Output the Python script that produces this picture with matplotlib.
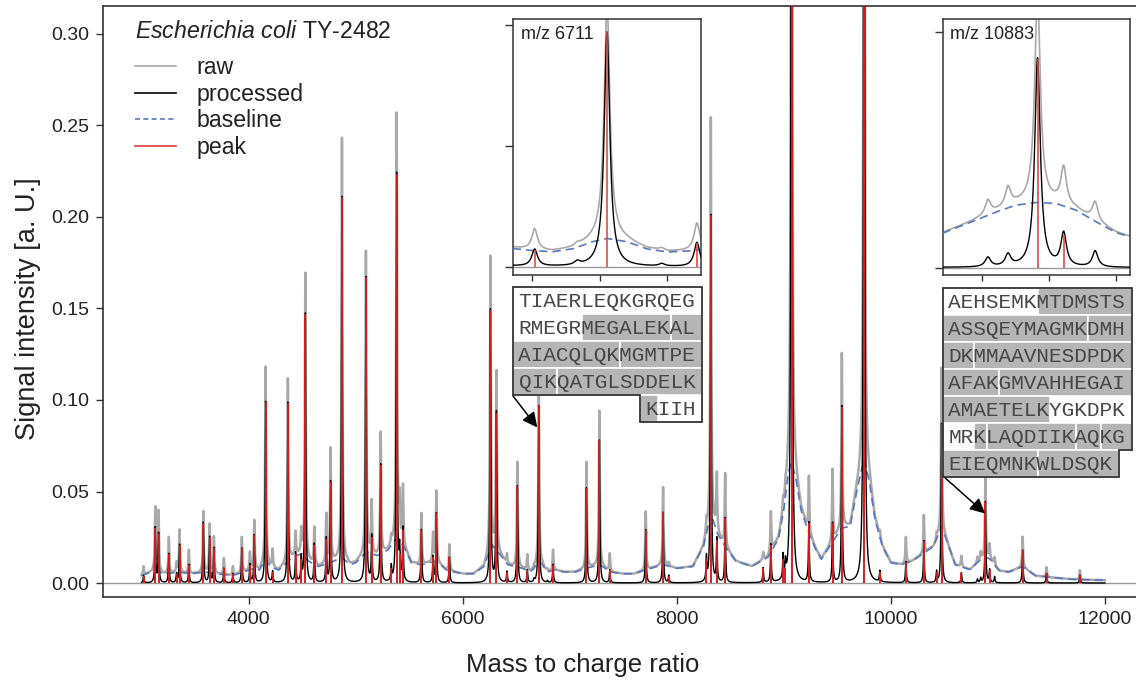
import numpy as np
import matplotlib
matplotlib.use("Agg")
import matplotlib.pyplot as plt
from matplotlib.patches import Polygon, Rectangle
from matplotlib.lines import Line2D

plt.rcParams["font.family"] = ["Liberation Sans", "DejaVu Sans"]
plt.rcParams["mathtext.fontset"] = "custom"
plt.rcParams["mathtext.rm"] = "Liberation Sans"
plt.rcParams["mathtext.it"] = "Liberation Sans:italic"

# detected peaks: m/z, processed intensity (peak mark), raw intensity at the top
peak_mz = [3019, 3128, 3159, 3255, 3327, 3355, 3442, 3577, 3636, 3676, 3769, 3853,
           3937, 4012, 4053, 4159, 4224, 4367, 4439, 4492, 4530, 4614, 4726, 4766,
           4872, 5096, 5150, 5234, 5333, 5383, 5411, 5442, 5614, 5723, 5754, 5876,
           6259, 6315, 6414, 6511, 6604, 6711, 6844, 7156, 7277, 7374, 7710, 7872,
           7925, 8277, 8318, 8374, 8452, 8807, 8879, 8993, 9015, 9072, 9234, 9455,
           9542, 9750, 9897, 10140, 10308, 10427, 10473, 10659, 10883, 10922, 11231,
           11454, 11766]
peak_int = [0.004, 0.030, 0.027, 0.016, 0.005, 0.021, 0.010, 0.033, 0.025, 0.019, 0.008, 0.005,
            0.019, 0.010, 0.026, 0.099, 0.006, 0.0985, 0.016, 0.013, 0.147, 0.021, 0.024, 0.055,
            0.211, 0.167, 0.025, 0.0645, 0.008, 0.2235, 0.016, 0.029, 0.029, 0.014, 0.038, 0.014,
            0.149, 0.093, 0.006, 0.053, 0.007, 0.097, 0.010, 0.052, 0.078, 0.007, 0.029, 0.0386,
            0.004, 0.013, 0.201, 0.0235, 0.0353, 0.008, 0.0208, 0.013, 0.008, 0.80, 0.0326, 0.0326,
            0.0963, 0.80, 0.006, 0.0117, 0.023, 0.006, 0.087, 0.0056, 0.0444, 0.007, 0.018,
            0.0053, 0.0044]
raw_top = [0.009, 0.041, 0.039, 0.025, 0.011, 0.029, 0.018, 0.039, 0.032, 0.025, 0.0135, 0.009,
           0.025, 0.0166, 0.034, 0.118, 0.018, 0.1115, 0.0275, 0.028, 0.169, 0.030, 0.037, 0.073,
           0.243, 0.181, 0.044, 0.082, 0.012, 0.256, 0.044, 0.052, 0.038, 0.027, 0.050, 0.021,
           0.178, 0.115, 0.0157, 0.066, 0.0154, 0.109, 0.018, 0.066, 0.094, 0.016, 0.039, 0.0523,
           0.008, 0.020, 0.254, 0.059, 0.0596, 0.015, 0.0386, 0.030, 0.030, 0.90, 0.0577, 0.0617,
           0.125, 0.90, 0.012, 0.025, 0.037, 0.020, 0.1175, 0.0148, 0.058, 0.021, 0.0253,
           0.0086, 0.007]

# small features of the processed spectrum without a peak mark
minor_mz = [6667, 6792, 10809, 10839, 10969]
minor_int = [0.0015, 0.001, 0.002, 0.0025, 0.0034]
minor_raw = [0.001, 0.001, 0.003, 0.004, 0.004]

# estimated baseline
base_mz = [3000, 3130, 3200, 3350, 3450, 3600, 3700, 3850, 3950, 4050, 4100, 4160,
           4200, 4280, 4370, 4440, 4500, 4560, 4650, 4760, 4870, 4950, 5000, 5100,
           5200, 5300, 5390, 5450, 5520, 5620, 5750, 5850, 6000, 6100, 6200, 6270,
           6330, 6420, 6500, 6560, 6600, 6630, 6660, 6690, 6711, 6740, 6770, 6800,
           6830, 6850, 6950, 7050, 7150, 7280, 7380, 7500, 7600, 7700, 7870, 8000,
           8150, 8250, 8318, 8380, 8450, 8550, 8700, 8850, 8950, 9000, 9040, 9072,
           9110, 9160, 9230, 9300, 9350, 9450, 9540, 9620, 9680, 9750, 9800, 9850,
           9920, 10000, 10100, 10200, 10300, 10400, 10473, 10540, 10600, 10700, 10742,
           10780, 10820, 10850, 10883, 10910, 10940, 10970, 11000, 11021, 11100, 11230,
           11350, 11500, 11700, 12000]
base_val = [0.004, 0.007, 0.005, 0.006, 0.005, 0.006, 0.005, 0.004, 0.006, 0.008, 0.007, 0.013,
            0.009, 0.007, 0.012, 0.015, 0.016, 0.012, 0.009, 0.011, 0.014, 0.010, 0.011, 0.017,
            0.015, 0.018, 0.025, 0.020, 0.011, 0.010, 0.012, 0.007, 0.005, 0.005, 0.009, 0.021,
            0.017, 0.010, 0.009, 0.0080, 0.0068, 0.0063, 0.0075, 0.0105, 0.0118, 0.0105, 0.0075, 0.0062,
            0.0066, 0.0072, 0.006, 0.006, 0.008, 0.010, 0.006, 0.005, 0.005, 0.007, 0.010, 0.008,
            0.009, 0.020, 0.038, 0.027, 0.020, 0.012, 0.009, 0.014, 0.024, 0.040, 0.060, 0.066,
            0.058, 0.040, 0.028, 0.018, 0.013, 0.022, 0.030, 0.031, 0.050, 0.068, 0.055, 0.035,
            0.020, 0.011, 0.010, 0.012, 0.016, 0.020, 0.031, 0.020, 0.010, 0.008, 0.0074,
            0.0095, 0.0118, 0.0133, 0.0139, 0.0137, 0.0123, 0.0098, 0.0075, 0.0066, 0.006, 0.009,
            0.004, 0.003, 0.002, 0.0015]

x_ticks = [4000, 6000, 8000, 10000, 12000]
y_ticks = [0.00, 0.05, 0.10, 0.15, 0.20, 0.25, 0.30]

# protein sequences shown for the two zoomed peaks, gray = covered fragments
seq1_rows = ["TIAERLEQKGRQEG", "RMEGRMEGALEKAL", "AIACQLQKMGMTPE", "QIKQATGLSDDELK", "KIIH"]
seq1_offset = [0, 0, 0, 0, 10]
seq1_gray = [[], [(5, 12), (12, 14)], [(0, 8), (8, 14)], [(0, 3), (3, 14)], [(0, 1)]]

seq2_rows = ["AEHSEMKMTDMSTS", "ASSQEYMAGMKDMH", "DKMMAAVNESDPDK", "AFAKGMVAHHEGAI",
             "AMAETELKYGKDPK", "MRKLAQDIIKAQKG", "EIEQMNKWLDSQK"]
seq2_offset = [0, 0, 0, 0, 0, 0, 0]
seq2_gray = [[(7, 14)], [(0, 11), (11, 14)], [(0, 2), (2, 14)], [(0, 4), (4, 14)],
             [(0, 8)], [(2, 3), (3, 10), (10, 12), (12, 14)], [(0, 7), (7, 13)]]

W, H = 1136, 680
RAW_C = "#a9a9a9"
BASE_C = "#5679bd"
PEAK_C = "#d11f1f"
TXT_C = "#222222"
FWHM = 10.0


def lorentz(x, mz, amp):
    return amp / (1.0 + (2.0 * (x - mz) / FWHM) ** 2)


def build_spectra():
    grid = np.arange(3000, 12000.5, 0.5)
    baseline = np.interp(grid, base_mz, base_val)
    processed = np.zeros_like(grid)
    raw = baseline.copy()
    for m, p, r in zip(peak_mz, peak_int, raw_top):
        processed += lorentz(grid, m, p)
        amp = max(r - np.interp(m, base_mz, base_val), 0.5 * p)
        raw += lorentz(grid, m, amp)
    for m, p, r in zip(minor_mz, minor_int, minor_raw):
        processed += lorentz(grid, m, p)
        raw += lorentz(grid, m, r)
    return grid, raw, processed, baseline


def draw_spectra(ax, grid, raw, processed, baseline, raw_lw, peak_c, peak_lw):
    ax.axhline(0, color="#9a9a9a", lw=1.0, zorder=1)
    ax.plot(grid, raw, color=RAW_C, lw=raw_lw, zorder=2)
    ax.plot(grid, baseline, color=BASE_C, lw=1.2, ls=(0, (5, 3)), zorder=3)
    ax.plot(grid, processed, color="black", lw=1.0, zorder=4)
    ax.vlines(peak_mz, 0, peak_int, color=peak_c, lw=peak_lw, zorder=5)


def draw_seq_box(ov, x0, y0, rows, offsets, gray):
    cw, rh, pad = 12.72, 27.0, 5.5
    lefts, rights, tops = [], [], []
    for r, row in enumerate(rows):
        lefts.append(x0 + offsets[r] * cw)
        rights.append(x0 + 2 * pad + (offsets[r] + len(row)) * cw)
        tops.append(y0 + r * rh)
    pts = []
    for r in range(len(rows)):
        pts += [(rights[r], tops[r]), (rights[r], tops[r] + rh)]
    for r in reversed(range(len(rows))):
        pts += [(lefts[r], tops[r] + rh), (lefts[r], tops[r])]
    ov.add_patch(Polygon(pts, closed=True, facecolor="white", edgecolor="none", zorder=1))
    for r, row in enumerate(rows):
        for s, e in gray[r]:
            xl = lefts[r] if s == 0 else x0 + pad + (offsets[r] + s) * cw
            xr = rights[r] if e == len(row) else x0 + pad + (offsets[r] + e) * cw
            ov.add_patch(Rectangle((xl, tops[r]), xr - xl, rh, facecolor="#b5b5b5",
                                   edgecolor="white", lw=1.2, zorder=2))
        ov.text(x0 + pad + offsets[r] * cw, tops[r] + rh / 2 + 1, row,
                family="Liberation Mono", fontsize=15.2, color="#474747",
                ha="left", va="center", zorder=3)
    ov.add_patch(Polygon(pts, closed=True, facecolor="none", edgecolor="#333333",
                         lw=1.3, zorder=4))


def style_inset(ax, xlim, ylim, xt, yt):
    ax.set_xlim(*xlim)
    ax.set_ylim(*ylim)
    ax.set_xticks(xt)
    ax.set_yticks(yt)
    ax.set_xticklabels([])
    ax.set_yticklabels([])
    ax.tick_params(axis="y", length=5.5, width=1, color="#333333")
    ax.tick_params(axis="x", length=4.5, width=1, color="#333333")
    for sp in ax.spines.values():
        sp.set_color("#333333")
        sp.set_linewidth(1.1)


grid, raw, processed, baseline = build_spectra()

fig = plt.figure(figsize=(W / 100, H / 100), dpi=100)
ax = fig.add_axes([103 / W, 83 / H, 1040.5 / W, 591 / H])
draw_spectra(ax, grid, raw, processed, baseline, 1.8, PEAK_C, 1.4)
ax.set_xlim(2640, 12360)
ax.set_ylim(-0.00765, 0.3153)
ax.set_xticks(x_ticks)
ax.set_yticks(y_ticks)
ax.set_yticklabels([f"{v:.2f}" for v in y_ticks])
ax.tick_params(labelsize=14, length=5, width=1, color="#333333", labelcolor=TXT_C, pad=5)
for sp in ax.spines.values():
    sp.set_color("#333333")
    sp.set_linewidth(1.2)
ax.set_xlabel("Mass to charge ratio", fontsize=18.5, color=TXT_C)
ax.xaxis.set_label_coords((583 - 103) / 1040.5, -(665 - 597) / 591, transform=ax.transAxes)
ax.set_ylabel("Signal intensity [a. U.]", fontsize=19.5, color=TXT_C)
ax.yaxis.set_label_coords(-(103 - 28) / 1040.5, (597 - 309) / 591, transform=ax.transAxes)
ax.xaxis.label.set_va("center")
ax.yaxis.label.set_va("center")

# legend with the strain name as its heading
fig.text(135 / W, 1 - 32 / H, r"$\it{Escherichia\ coli}$ TY-2482", fontsize=16.7,
         color=TXT_C, ha="left", va="center")
handles = [Line2D([], [], color=RAW_C, lw=1.2), Line2D([], [], color="black", lw=1.2),
           Line2D([], [], color=BASE_C, lw=1.2, ls=(0, (3, 2))),
           Line2D([], [], color="#e03a3a", lw=1.2)]
leg = ax.legend(handles, ["raw", "processed", "baseline", "peak"],
                fontsize=16.7, loc="upper left", bbox_to_anchor=(135 / W, 1 - 56 / H),
                bbox_transform=fig.transFigure, frameon=False,
                handlelength=1.75, handletextpad=0.9, labelspacing=0.16, borderpad=0,
                borderaxespad=0)
for t in leg.get_texts():
    t.set_color(TXT_C)

# zoomed insets
in1 = fig.add_axes([513 / W, 1 - 275 / H, 188 / W, 256 / H])
draw_spectra(in1, grid, raw, processed, baseline, 1.2, "#e04a4a", 1.2)
style_inset(in1, (6572, 6850), (-0.0033, 0.1025), [6600, 6700, 6800], [0, 0.05, 0.10])
in1.text(0.04, 0.94, "m/z 6711", transform=in1.transAxes, fontsize=13, color=TXT_C,
         ha="left", va="center")

in2 = fig.add_axes([943 / W, 1 - 275 / H, 187 / W, 256 / H])
draw_spectra(in2, grid, raw, processed, baseline, 1.2, "#e04a4a", 1.2)
style_inset(in2, (10742, 11021), (-0.0015, 0.0528), [10800, 10900, 11000], [0, 0.05])
in2.text(0.04, 0.94, "m/z 10883", transform=in2.transAxes, fontsize=13, color=TXT_C,
         ha="left", va="center")

# sequence boxes in pixel coordinates
ov = fig.add_axes([0, 0, 1, 1], zorder=10)
ov.set_xlim(0, W)
ov.set_ylim(H, 0)
ov.axis("off")
draw_seq_box(ov, 513, 287, seq1_rows, seq1_offset, seq1_gray)
draw_seq_box(ov, 943, 288, seq2_rows, seq2_offset, seq2_gray)

arrow = dict(arrowstyle="-|>,head_length=0.9,head_width=0.45", color="black", lw=1.1,
             shrinkA=0, shrinkB=0)
ov.annotate("", xy=(6697, 0.085), xycoords=ax.transData, xytext=(513, 396),
            textcoords="data", arrowprops=arrow)
ov.annotate("", xy=(10880, 0.038), xycoords=ax.transData, xytext=(943, 476),
            textcoords="data", arrowprops=arrow)

fig.savefig("out.png", dpi=100)
